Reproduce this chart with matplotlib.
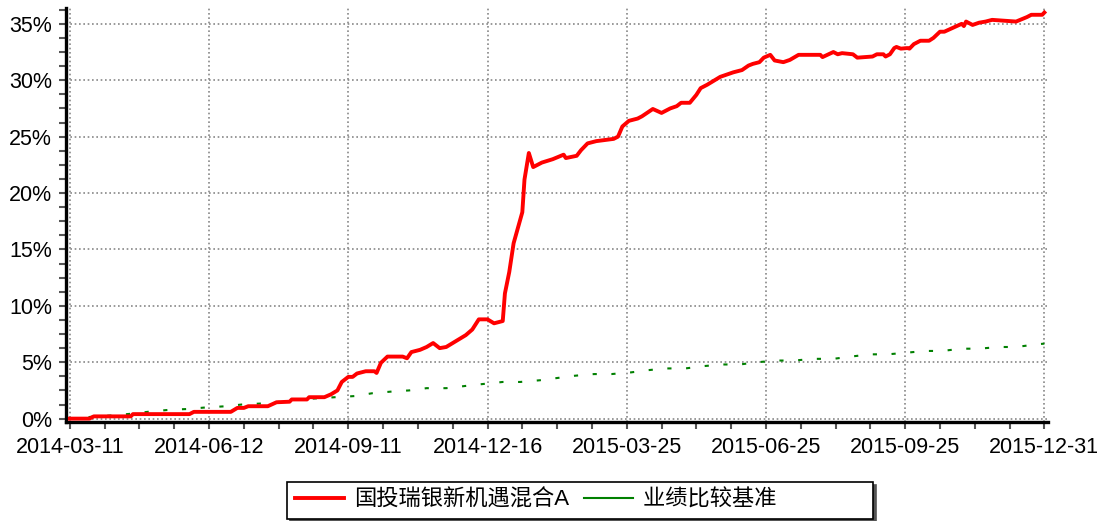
import matplotlib.pyplot as plt
from matplotlib.lines import Line2D
from matplotlib.ticker import FixedLocator, MultipleLocator, PercentFormatter

plt.rcParams['font.family'] = ['Liberation Sans', 'Noto Sans CJK SC', 'DejaVu Sans']

# trading-day index of each tick date
tick_days = [0, 64, 128, 192, 256, 320, 384, 448]
tick_labels = ['2014-03-11', '2014-06-12', '2014-09-11', '2014-12-16',
               '2015-03-25', '2015-06-25', '2015-09-25', '2015-12-31']

# fund cumulative return (%)
fund_days = [0, 9, 11, 28, 29, 55, 57, 74, 77, 80, 82, 91, 95, 101, 102, 109, 110,
             117, 120, 123, 125, 128, 130, 132, 136, 140, 141, 143, 146, 153, 155,
             157, 161, 164, 167, 170, 173, 176, 179, 182, 185, 188, 192, 195, 199,
             200, 202, 204, 208, 209, 211, 213, 217, 222, 227, 228, 233, 235, 238,
             242, 250, 252, 254, 257, 261, 263, 268, 272, 276, 279, 281, 285, 288,
             290, 293, 296, 299, 302, 305, 309, 312, 314, 317, 319, 322, 324, 328,
             331, 335, 345, 346, 351, 353, 355, 360, 362, 369, 371, 374, 375, 377,
             379, 380, 382, 385, 386, 388, 391, 395, 397, 400, 402, 406, 410, 411,
             412, 415, 418, 421, 424, 435, 440, 442, 447, 448]
fund_ret = [0.0, 0.0, 0.2, 0.2, 0.4, 0.4, 0.6, 0.6, 0.95, 0.95, 1.1, 1.1, 1.45, 1.5,
            1.7, 1.7, 1.9, 1.9, 2.15, 2.5, 3.25, 3.7, 3.7, 4.0, 4.2, 4.2, 4.05, 4.95,
            5.5, 5.5, 5.35, 5.9, 6.1, 6.35, 6.7, 6.25, 6.35, 6.7, 7.05, 7.4, 7.9, 8.8,
            8.8, 8.45, 8.65, 11.1, 13.0, 15.55, 18.3, 21.2, 23.55, 22.3, 22.7, 23.0,
            23.4, 23.1, 23.3, 23.8, 24.4, 24.6, 24.8, 25.0, 25.9, 26.4, 26.6, 26.8,
            27.45, 27.1, 27.5, 27.7, 28.0, 28.0, 28.7, 29.3, 29.6, 29.95, 30.3, 30.5,
            30.7, 30.9, 31.3, 31.45, 31.6, 32.0, 32.25, 31.75, 31.6, 31.8, 32.25,
            32.25, 32.05, 32.5, 32.3, 32.4, 32.3, 32.0, 32.1, 32.3, 32.3, 32.1, 32.3,
            32.85, 32.95, 32.8, 32.85, 32.8, 33.2, 33.5, 33.5, 33.75, 34.3, 34.3,
            34.65, 35.0, 34.8, 35.2, 34.9, 35.1, 35.2, 35.35, 35.2, 35.6, 35.8, 35.8,
            36.0]

# benchmark cumulative return (%)
bench_days = [0, 4, 12, 21, 29, 38, 47, 54, 63, 72, 79, 89, 97, 105, 114, 122, 131,
              139, 148, 156, 164, 173, 182, 189, 199, 207, 216, 224, 232, 241, 249,
              258, 266, 274, 283, 291, 300, 308, 316, 325, 333, 342, 351, 359, 368,
              376, 385, 393, 401, 410, 418, 427, 435, 443, 448]
bench_ret = [0.0, 0.05, 0.2, 0.3, 0.45, 0.65, 0.8, 0.85, 1.0, 1.1, 1.25, 1.35, 1.5,
             1.7, 1.8, 1.9, 2.0, 2.25, 2.4, 2.5, 2.7, 2.7, 2.9, 3.05, 3.25, 3.25, 3.4,
             3.6, 3.8, 3.95, 3.95, 4.1, 4.3, 4.45, 4.45, 4.65, 4.8, 4.8, 5.0, 5.15,
             5.15, 5.3, 5.3, 5.5, 5.7, 5.7, 5.85, 6.0, 6.0, 6.2, 6.2, 6.35, 6.35, 6.55,
             6.65]

fund_name = '国投瑞银新机遇混合A'
bench_name = '业绩比较基准'

fig = plt.figure(figsize=(11.03, 5.21), dpi=100)
ax = fig.add_axes([0.0598, 0.19, 0.890, 0.7946])

ax.plot(fund_days, fund_ret, color='#ff0000', lw=2.8,
        solid_joinstyle='round', zorder=3)
ax.plot(bench_days, bench_ret, color='#008000', lw=1.5, linestyle=(0, (2, 7)),
        zorder=2)

ax.set_xlim(-1.8, 449.5)
ax.set_ylim(-0.3, 36.4)

ax.xaxis.set_major_locator(FixedLocator(tick_days))
ax.set_xticklabels(tick_labels)
ax.xaxis.set_minor_locator(MultipleLocator(16))
ax.yaxis.set_major_locator(MultipleLocator(5))
ax.yaxis.set_minor_locator(MultipleLocator(1.25))
ax.yaxis.set_major_formatter(PercentFormatter(decimals=0))

ax.tick_params(which='both', direction='out', length=5, width=1.5, color='#555555',
               labelsize=15.5)
ax.tick_params(axis='x', pad=6)
ax.tick_params(axis='y', pad=5)

ax.grid(True, which='major', color='#888888', linestyle=(0, (1, 1.6)), lw=1.2)

for s in ['top', 'right']:
    ax.spines[s].set_visible(False)
for s in ['left', 'bottom']:
    ax.spines[s].set_linewidth(2.4)
    ax.spines[s].set_color('black')

# legend shows both series as solid lines
handles = [Line2D([], [], color='#ff0000', lw=2.8),
           Line2D([], [], color='#008000', lw=1.5, linestyle='-')]
# trailing ideographic spaces widen the box like the original
labels = [fund_name, bench_name + '\u3000\u3000\u3000\u3000']
leg = fig.legend(handles, labels, loc='center', bbox_to_anchor=(0.526, 0.04),
                 ncol=2, fontsize=16, fancybox=False,
                 shadow={'color': '#555555', 'alpha': 1},
                 edgecolor='black', framealpha=1, handlelength=2.2,
                 handletextpad=0.45, columnspacing=0.7, borderpad=0.35,
                 borderaxespad=0)
leg.get_frame().set_linewidth(1.2)

plt.savefig('out.png', dpi=100)
